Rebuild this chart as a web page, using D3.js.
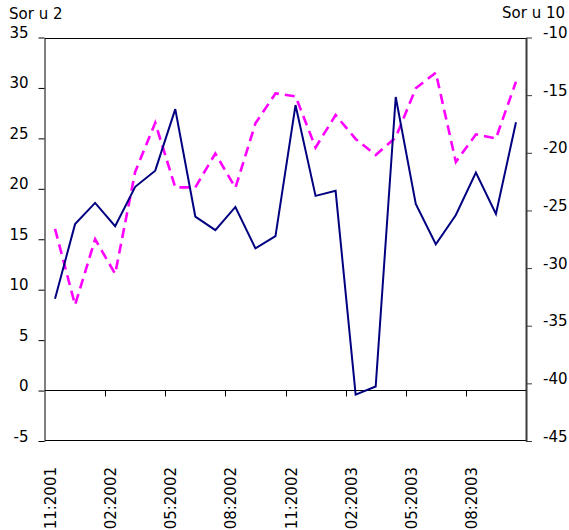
<!DOCTYPE html>
<html>
<head>
<meta charset="utf-8">
<script src="https://cdn.jsdelivr.net/npm/d3@7/dist/d3.min.js"></script>
<style>
  html, body { margin: 0; padding: 0; background: #fff; }
  svg text { font-family: "DejaVu Sans", Verdana, sans-serif; font-size: 15px; fill: #000; }
</style>
</head>
<body>
<svg id="chart" width="569" height="530"></svg>
<script>
// ---- data ----
const categories = ["11:2001","12:2001","01:2002","02:2002","03:2002","04:2002","05:2002","06:2002",
  "07:2002","08:2002","09:2002","10:2002","11:2002","12:2002","01:2003","02:2003",
  "03:2003","04:2003","05:2003","06:2003","07:2003","08:2003","09:2003","10:2003"];
const soru2 = [9.1, 16.5, 18.6, 16.3, 20.2, 21.8, 27.9, 17.25, 15.9, 18.2, 14.1, 15.3,
  28.3, 19.3, 19.8, -0.4, 0.4, 29.1, 18.5, 14.5, 17.4, 21.6, 17.5, 26.6];
const soru10 = [-26.6, -33.2, -27.5, -30.5, -21.65, -17.4, -23.0, -23.0, -20.06, -23.04, -17.45, -14.85,
  -15.1, -19.54, -16.73, -18.8, -20.2, -18.67, -14.4, -13.05, -20.8, -18.4, -18.76, -13.84];
const leftTicks = [-5, 0, 5, 10, 15, 20, 25, 30, 35];
const rightTicks = [-45, -40, -35, -30, -25, -20, -15, -10];
const xLabelEvery = 3;
const leftTitle = "Sor u 2";
const rightTitle = "Sor u 10";

// ---- layout ----
const L = 45, R = 526, T = 37.5, B = 441;
const svg = d3.select("#chart");

const x = d3.scaleBand().domain(categories).range([L, R]).paddingInner(0).paddingOuter(0);
const yL = d3.scaleLinear().domain([-5, 35]).range([B, T]);
const yR = d3.scaleLinear().domain([-45, -10]).range([B, T]);
const cx = c => x(c) + x.bandwidth() / 2;

// frame: top & bottom
svg.append("line").attr("x1", L).attr("x2", R).attr("y1", Math.round(T) + 0.5).attr("y2", Math.round(T) + 0.5)
  .attr("stroke", "#000").attr("stroke-width", 1);
svg.append("line").attr("x1", L).attr("x2", R).attr("y1", B - 0.5).attr("y2", B - 0.5)
  .attr("stroke", "#000").attr("stroke-width", 1);

// left axis
const gL = svg.append("g").attr("transform", `translate(${L - 0.5},0)`)
  .call(d3.axisLeft(yL).tickValues(leftTicks).tickSize(6).tickSizeOuter(0).tickPadding(10));
gL.select(".domain").attr("stroke", "#000");
gL.selectAll(".tick line").attr("stroke", "#000");
gL.selectAll(".tick text").attr("dy", "0").style("font-size", "15px")
  .style("font-family", '"DejaVu Sans", Verdana, sans-serif');

// right axis
const gR = svg.append("g").attr("transform", `translate(${R},0)`)
  .call(d3.axisRight(yR).tickValues(rightTicks).tickSize(6).tickSizeOuter(0).tickPadding(11)
    .tickFormat(d => String(d).replace("\u2212", "-")));
gR.select(".domain").attr("stroke", "#3a3a3a").attr("stroke-width", 2);
gR.selectAll(".tick line").attr("stroke", "#3a3a3a");
gR.selectAll(".tick text").attr("dy", "0").style("font-size", "15px")
  .style("font-family", '"DejaVu Sans", Verdana, sans-serif');
gL.selectAll(".tick text").text(d => String(d));
gR.selectAll(".tick text").text(d => String(d));

// x axis at zero
const y0 = Math.round(yL(0)) - 0.5;
svg.append("line").attr("x1", L).attr("x2", R).attr("y1", y0).attr("y2", y0).attr("stroke", "#000");
const tickCats = categories.filter((c, i) => i > 0 && i % xLabelEvery === 0);
svg.selectAll(".xtick").data(tickCats).enter().append("line")
  .attr("class", "xtick")
  .attr("x1", d => Math.round(x(d)) + 0.5).attr("x2", d => Math.round(x(d)) + 0.5)
  .attr("y1", y0).attr("y2", y0 + 6).attr("stroke", "#000");

// x labels
const labCats = categories.filter((c, i) => i % xLabelEvery === 0);
svg.selectAll(".xlab").data(labCats).enter().append("text")
  .attr("class", "xlab")
  .attr("transform", d => `translate(${cx(d) + 1},467) rotate(-90)`)
  .attr("text-anchor", "end")
  .text(d => d);

// series
const lineL = d3.line().x((d, i) => cx(categories[i])).y(d => yL(d));
const lineR = d3.line().x((d, i) => cx(categories[i])).y(d => yR(d));

svg.append("path").datum(soru10).attr("d", lineR)
  .attr("fill", "none").attr("stroke", "#ff00ff").attr("stroke-width", 2.6)
  .attr("stroke-dasharray", "10,6");
svg.append("path").datum(soru2).attr("d", lineL)
  .attr("fill", "none").attr("stroke", "#000080").attr("stroke-width", 2);

// titles
svg.append("text").attr("x", 9).attr("y", 19).text(leftTitle);
svg.append("text").attr("x", 565).attr("y", 18).attr("text-anchor", "end").text(rightTitle);
</script>
</body>
</html>
